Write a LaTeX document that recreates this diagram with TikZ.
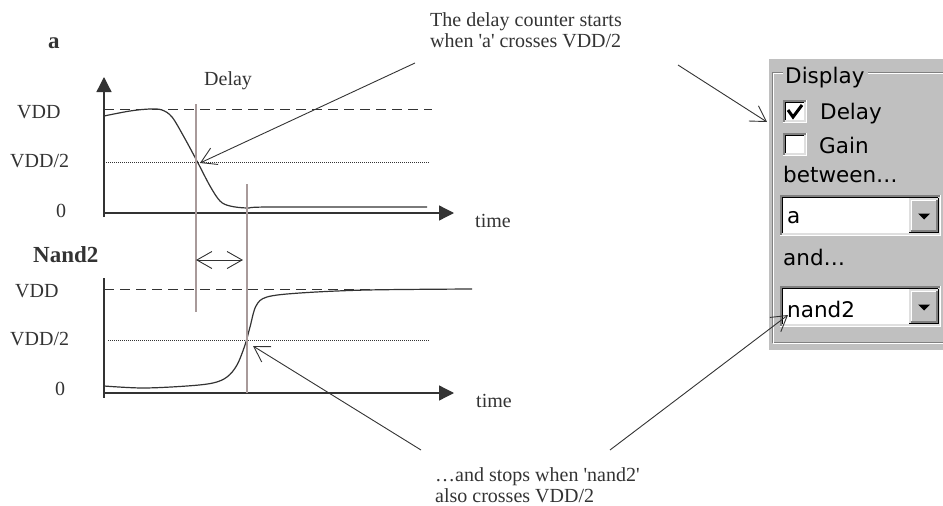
\documentclass[tikz,border=0pt]{standalone}
\usepackage{fontspec}
\setmainfont{Liberation Serif}
\newfontfamily\guifont{DejaVu Sans}
\usetikzlibrary{arrows.meta}

\definecolor{ink}{HTML}{333333}
\definecolor{marker}{HTML}{A89A9A}
\definecolor{panelgrey}{HTML}{C0C0C0}
\definecolor{shadegrey}{HTML}{808080}
\definecolor{lightgrey}{HTML}{DFDFDF}

% sunken 3D field: #1,#2 = top-left, #3,#4 = bottom-right
\newcommand{\guisunken}[4]{%
  \fill[white] (#1,#2) rectangle (#3,#4);
  \draw[shadegrey, line width=1.5pt] (#1+0.75,#4) -- (#1+0.75,#2+0.75) -- (#3,#2+0.75);
  \draw[black, line width=1.5pt] (#1+2.25,#4-1.5) -- (#1+2.25,#2+2.25) -- (#3-1.5,#2+2.25);
  \draw[white, line width=1.5pt] (#1,#4-0.75) -- (#3-0.75,#4-0.75) -- (#3-0.75,#2);
  \draw[lightgrey, line width=1.5pt] (#1+1.5,#4-2.25) -- (#3-2.25,#4-2.25) -- (#3-2.25,#2+1.5);
}
% raised drop-down button with its arrow
\newcommand{\guibutton}[4]{%
  \fill[panelgrey] (#1,#2) rectangle (#3,#4);
  \draw[lightgrey, line width=1.5pt] (#1+0.75,#4) -- (#1+0.75,#2+0.75) -- (#3,#2+0.75);
  \draw[white, line width=1.5pt] (#1+2.25,#4-1.5) -- (#1+2.25,#2+2.25) -- (#3-1.5,#2+2.25);
  \draw[black, line width=1.5pt] (#1,#4-0.75) -- (#3-0.75,#4-0.75) -- (#3-0.75,#2);
  \draw[shadegrey, line width=1.5pt] (#1+1.5,#4-2.25) -- (#3-2.25,#4-2.25) -- (#3-2.25,#2+1.5);
  \fill[black] ({(#1+#3)/2-6},{(#2+#4)/2-2}) -- ({(#1+#3)/2+6},{(#2+#4)/2-2}) -- ({(#1+#3)/2},{(#2+#4)/2+4}) -- cycle;
}

\begin{document}
\begin{tikzpicture}[x=1pt,y=-1pt,
  lbl/.style={font=\fontsize{20}{22}\selectfont, text=ink, inner sep=0pt, anchor=base west},
  title/.style={font=\fontsize{23}{26}\selectfont\bfseries, text=ink, inner sep=0pt, anchor=base west},
  note/.style={font=\fontsize{20}{21}\selectfont, text=ink, inner sep=0pt, align=left, anchor=north west},
  gui/.style={font=\fontsize{21.5}{24}\selectfont\guifont, text=black, inner sep=0pt, anchor=base west},
  axis/.style={draw=ink, line width=1.3pt},
  axisarrow/.style={axis, -{Triangle[length=15pt,width=15pt]}},
  level/.style={draw=ink, line width=1pt, dash pattern=on 10pt off 6pt},
  half/.style={draw=ink, line width=0.6pt, dash pattern=on 1pt off 1pt},
  signal/.style={draw=ink, line width=1.2pt},
  markline/.style={draw=marker, line width=1.1pt},
  callout/.style={draw=ink, line width=0.9pt, -{Straight Barb[length=15pt,width=18pt]}},
  span/.style={draw=ink, line width=0.9pt, {Straight Barb[length=15pt,width=17pt]}-{Straight Barb[length=15pt,width=17pt]}},
]
\useasboundingbox (0,0) rectangle (943,506);

% ---------------- signal a ----------------
\node[title] (lbla) at (48,48) {a};
\draw[axisarrow] (104,217) -- (104,77);
\draw[axisarrow] (104,213) -- (454,213);
\draw[level] (104,109) -- (432,109);
\draw[half] (104,162) -- (430,162);
\node[lbl] (vdda) at (17,118) {VDD};
\node[lbl] (halfa) at (10,167) {VDD/2};
\node[lbl] (zeroa) at (56,217) {0};
\node[lbl] (timea) at (475,227) {time};
\node[lbl] (delay) at (204,85) {Delay};
\draw[signal] plot[smooth, tension=0.55] coordinates {(104,116) (130,111) (150,109) (162,110) (172,117) (184,137) (198,163) (210,186) (220,201) (230,206) (247,208) (270,207) (427,207)};

% ---------------- signal nand2 ----------------
\node[title] (lblb) at (33,262) {Nand2};
\draw[axis] (104,278) -- (104,398);
\draw[axisarrow] (104,393) -- (454,393);
\draw[level] (104,289) -- (420,289);
\draw[half] (108,340) -- (430,340);
\node[lbl] (vddb) at (15,297) {VDD};
\node[lbl] (halfb) at (10,345) {VDD/2};
\node[lbl] (zerob) at (55,395) {0};
\node[lbl] (timeb) at (476,407) {time};
\draw[signal] plot[smooth, tension=0.55] coordinates {(104,386) (143,388) (187,386) (213,383) (227,377) (237,365) (245,345) (250,327) (256,306) (267,297) (300,293) (367,290) (472,289)};

% ---------------- delay markers ----------------
\draw[markline] (196,104) -- (196,312);
\draw[markline] (247,184) -- (247,393);
\coordinate (spanL) at (196,260);
\coordinate (spanR) at (243,260);
\draw[span] (spanL) -- (spanR);

% ---------------- notes ----------------
\node[note] (startnote) at (430,12) {The delay counter starts\\when \textquotesingle a\textquotesingle{} crosses VDD/2};
\node[note] (stopnote) at (435,467) {\ldots and stops when \textquotesingle nand2\textquotesingle\\also crosses VDD/2};

% ---------------- display panel ----------------
\fill[panelgrey] (769,59) rectangle (950,350);
\draw[shadegrey, line width=1pt] (772,72) rectangle (960,342);
\draw[white, line width=1pt] (773.5,73.5) rectangle (960,343.5);
\fill[panelgrey] (783,62) rectangle (868,84);
\node[gui] (display) at (785,83) {Display};

\guisunken{783}{100}{807}{123}
\draw[black, line width=3pt] (788,110) -- (793,117) -- (802,105);
\node[gui] (delaybox) at (820,119) {Delay};
\guisunken{783}{133}{807}{156}
\node[gui] (gainbox) at (819,153) {Gain};
\node[gui] (between) at (783,182) {between\ldots};

\guisunken{780}{195}{941}{236}
\guibutton{909}{198}{939}{233}
\node[gui] (sela) at (787,223) {a};
\node[gui] (andlbl) at (783,265) {and\ldots};
\guisunken{780}{286}{941}{327}
\guibutton{909}{289}{939}{324}
\node[gui] (selb) at (787,317) {nand2};

% ---------------- callout arrows ----------------
\coordinate (startfrom) at (415,63);
\coordinate (crossa) at (200,163);
\coordinate (panelfrom) at (678,65);
\coordinate (paneltip) at (767,122);
\coordinate (stopfrom) at (421,450);
\coordinate (crossb) at (253,346);
\coordinate (selfrom) at (610,450);
\coordinate (seltip) at (788,315);
\draw[callout] (startfrom) -- (crossa);
\draw[callout] (panelfrom) -- (paneltip);
\draw[callout] (stopfrom) -- (crossb);
\draw[callout] (selfrom) -- (seltip);
\end{tikzpicture}
\end{document}
